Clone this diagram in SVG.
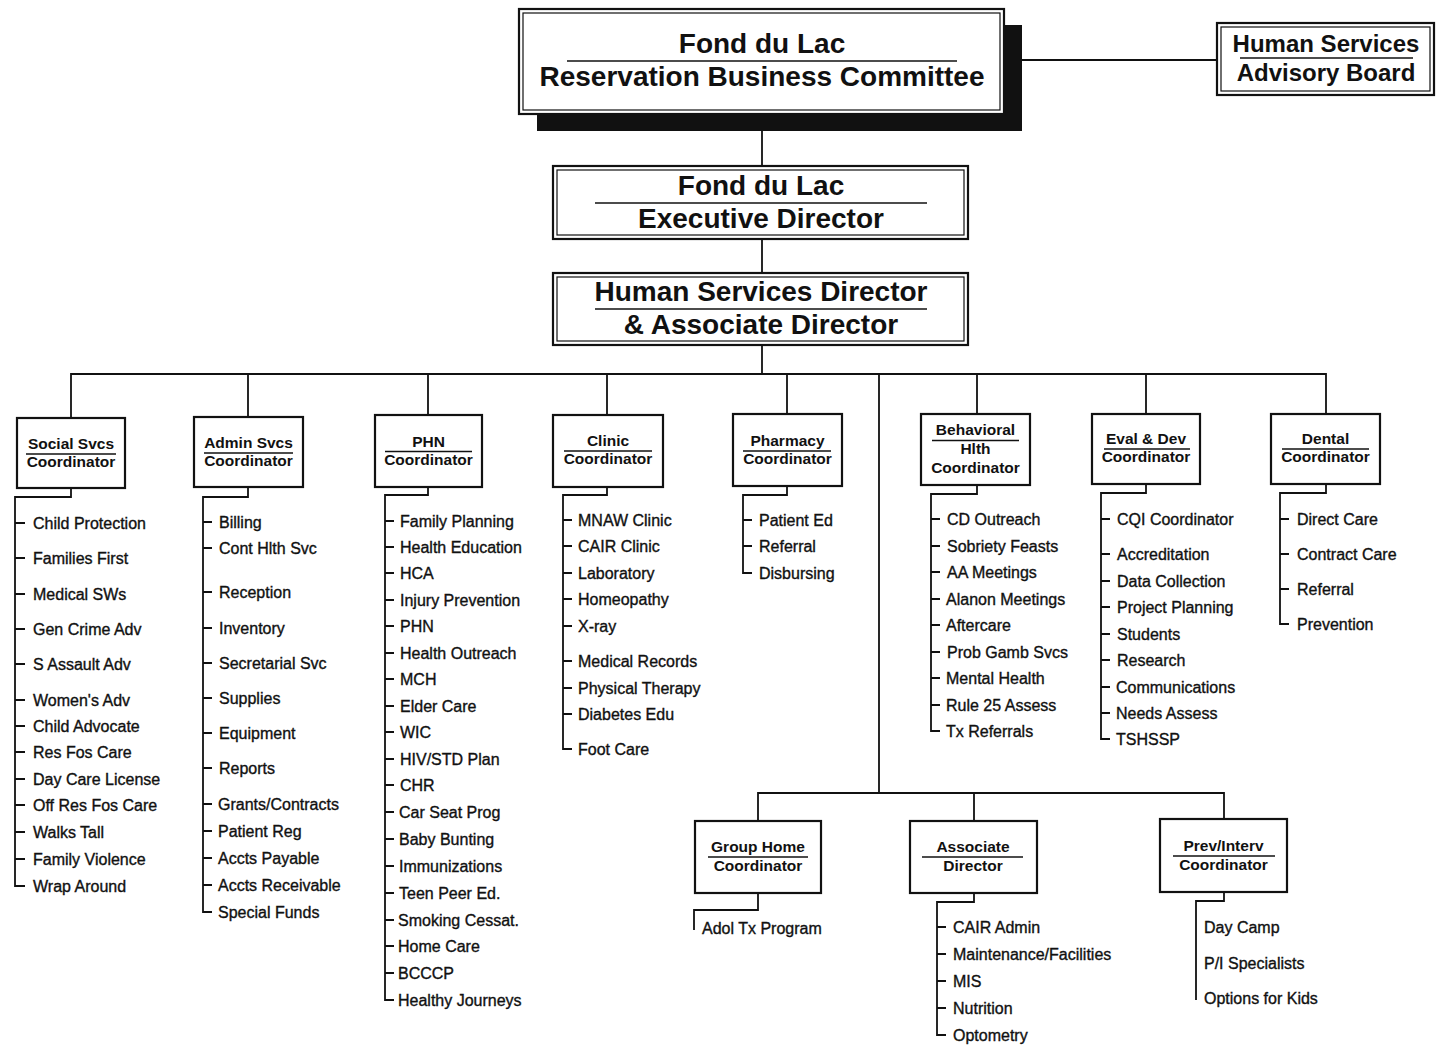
<svg xmlns="http://www.w3.org/2000/svg" width="1437" height="1049" viewBox="0 0 1437 1049">
<style>
.bg{fill:#fff}
.box{fill:#fff;stroke:#111;stroke-width:2.2}
.inner{fill:none;stroke:#111;stroke-width:1.2}
.sep{stroke:#111;stroke-width:1.6}
.wire{fill:none;stroke:#111;stroke-width:1.8}
.big{font-family:"Liberation Sans",Arial,sans-serif;font-weight:bold;font-size:28px;text-anchor:middle;fill:#111}
.mid{font-family:"Liberation Sans",Arial,sans-serif;font-weight:bold;font-size:24px;text-anchor:middle;fill:#111}
.co{font-family:"Liberation Sans",Arial,sans-serif;font-weight:bold;font-size:15.5px;text-anchor:middle;fill:#111}
.it{font-family:"Liberation Sans",Arial,sans-serif;font-size:16px;fill:#111;stroke:#111;stroke-width:0.35}
</style>
<rect class="bg" x="0" y="0" width="1437" height="1049"/>

<g id="connectors">
  <path class="wire" d="M1004,60 H1217"/>
  <path class="wire" d="M762,114 V166 M762,239 V273 M762,345 V374"/>
  <path class="wire" d="M71,418 V374 H1326 V414 M248,374 V417 M428,374 V415 M607,374 V415 M787,374 V414 M977,374 V414 M1146,374 V414"/>
  <path class="wire" d="M879,374 V793 M758,821 V793 H1224 V819 M974,793 V821"/>
  <!-- Social tree -->
  <path class="wire" d="M71,488 V497 H15 V886 H25 M15,523 h10 M15,558 h10 M15,594 h10 M15,629 h10 M15,664 h10 M15,700 h10 M15,726 h10 M15,752 h10 M15,779 h10 M15,805 h10 M15,832 h10 M15,859 h10"/>
  <!-- Admin tree -->
  <path class="wire" d="M248,487 V497 H203 V912 H212 M203,522 h9 M203,548 h9 M203,592 h9 M203,628 h9 M203,663 h9 M203,698 h9 M203,733 h9 M203,768 h9 M203,804 h9 M203,831 h9 M203,858 h9 M203,885 h9"/>
  <!-- PHN tree -->
  <path class="wire" d="M428,487 V495 H385 V1000 H394 M385,521 h9 M385,547 h9 M385,573 h9 M385,600 h9 M385,626 h9 M385,653 h9 M385,679 h9 M385,706 h9 M385,732 h9 M385,759 h9 M385,785 h9 M385,812 h9 M385,839 h9 M385,866 h9 M385,893 h9 M385,920 h9 M385,946 h9 M385,973 h9"/>
  <!-- Clinic tree -->
  <path class="wire" d="M607,487 V495 H563 V749 H572 M563,520 h9 M563,546 h9 M563,573 h9 M563,599 h9 M563,626 h9 M563,661 h9 M563,688 h9 M563,714 h9"/>
  <!-- Pharmacy tree -->
  <path class="wire" d="M787,486 V495 H743 V573 H752 M743,520 h9 M743,546 h9"/>
  <!-- Behavioral tree -->
  <path class="wire" d="M977,485 V494 H931 V731 H940 M931,519 h9 M931,546 h9 M931,572 h9 M931,599 h9 M931,625 h9 M931,652 h9 M931,678 h9 M931,705 h9"/>
  <!-- Eval tree -->
  <path class="wire" d="M1146,484 V493 H1101 V739 H1110 M1101,519 h9 M1101,554 h9 M1101,581 h9 M1101,607 h9 M1101,634 h9 M1101,660 h9 M1101,687 h9 M1101,713 h9"/>
  <!-- Dental tree -->
  <path class="wire" d="M1326,484 V493 H1280 V624 H1289 M1280,519 h9 M1280,554 h9 M1280,589 h9"/>
  <!-- Group home tree -->
  <path class="wire" d="M758,893 V910 H694 V930"/>
  <!-- Associate tree -->
  <path class="wire" d="M974,893 V902 H937 V1035 H946 M937,927 h9 M937,954 h9 M937,981 h9 M937,1008 h9"/>
  <!-- Prev tree -->
  <path class="wire" d="M1224,892 V901 H1196 V1000"/>
</g>

<g id="rbc">
  <rect x="537" y="25" width="485" height="106" fill="#111"/>
  <rect class="box" x="519" y="9" width="485" height="105"/>
  <rect class="inner" x="523" y="13" width="477" height="97"/>
  <text class="big" x="762" y="53">Fond du Lac</text>
  <line class="sep" x1="567" y1="61" x2="957" y2="61"/>
  <text class="big" x="762" y="86">Reservation Business Committee</text>
</g>

<g id="hsab">
  <rect class="box" x="1217" y="23" width="217" height="72"/>
  <rect class="inner" x="1221" y="27" width="209" height="64"/>
  <text class="mid" x="1326" y="52">Human Services</text>
  <line class="sep" x1="1240" y1="58" x2="1413" y2="58"/>
  <text class="mid" x="1326" y="81">Advisory Board</text>
</g>

<g id="exec">
  <rect class="box" x="553" y="166" width="415" height="73"/>
  <rect class="inner" x="557" y="170" width="407" height="65"/>
  <text class="big" x="761" y="195">Fond du Lac</text>
  <line class="sep" x1="595" y1="203" x2="927" y2="203"/>
  <text class="big" x="761" y="228">Executive Director</text>
</g>

<g id="hsdir">
  <rect class="box" x="553" y="273" width="415" height="72"/>
  <rect class="inner" x="557" y="277" width="407" height="64"/>
  <text class="big" x="761" y="301">Human Services Director</text>
  <line class="sep" x1="595" y1="309" x2="927" y2="309"/>
  <text class="big" x="761" y="334">&amp; Associate Director</text>
</g>

<g id="social">
  <rect class="box" x="17" y="418" width="108" height="70"/>
  <text class="co" x="71" y="449">Social Svcs</text>
  <line class="sep" x1="26" y1="454" x2="116" y2="454"/>
  <text class="co" x="71" y="467">Coordinator</text>
  <text class="it" x="33" y="528.5">Child Protection</text>
  <text class="it" x="33" y="563.5">Families First</text>
  <text class="it" x="33" y="599.5">Medical SWs</text>
  <text class="it" x="33" y="634.5">Gen Crime Adv</text>
  <text class="it" x="33" y="669.5">S Assault Adv</text>
  <text class="it" x="33" y="705.5">Women's Adv</text>
  <text class="it" x="33" y="731.5">Child Advocate</text>
  <text class="it" x="33" y="757.5">Res Fos Care</text>
  <text class="it" x="33" y="784.5">Day Care License</text>
  <text class="it" x="33" y="810.5">Off Res Fos Care</text>
  <text class="it" x="33" y="837.5">Walks Tall</text>
  <text class="it" x="33" y="864.5">Family Violence</text>
  <text class="it" x="33" y="891.5">Wrap Around</text>
</g>

<g id="admin">
  <rect class="box" x="194" y="417" width="109" height="70"/>
  <text class="co" x="248.5" y="448">Admin Svcs</text>
  <line class="sep" x1="204" y1="453" x2="293" y2="453"/>
  <text class="co" x="248.5" y="466">Coordinator</text>
  <text class="it" x="219" y="527.5">Billing</text>
  <text class="it" x="219" y="553.5">Cont Hlth Svc</text>
  <text class="it" x="219" y="597.5">Reception</text>
  <text class="it" x="219" y="633.5">Inventory</text>
  <text class="it" x="219" y="668.5">Secretarial Svc</text>
  <text class="it" x="219" y="703.5">Supplies</text>
  <text class="it" x="219" y="738.5">Equipment</text>
  <text class="it" x="219" y="773.5">Reports</text>
  <text class="it" x="218" y="809.5">Grants/Contracts</text>
  <text class="it" x="218" y="836.5">Patient Reg</text>
  <text class="it" x="218" y="863.5">Accts Payable</text>
  <text class="it" x="218" y="890.5">Accts Receivable</text>
  <text class="it" x="218" y="917.5">Special Funds</text>
</g>

<g id="phn">
  <rect class="box" x="375" y="415" width="107" height="72"/>
  <text class="co" x="428.5" y="447">PHN</text>
  <line class="sep" x1="385" y1="451.5" x2="472" y2="451.5"/>
  <text class="co" x="428.5" y="465">Coordinator</text>
  <text class="it" x="400" y="526.5">Family Planning</text>
  <text class="it" x="400" y="552.5">Health Education</text>
  <text class="it" x="400" y="578.5">HCA</text>
  <text class="it" x="400" y="605.5">Injury Prevention</text>
  <text class="it" x="400" y="631.5">PHN</text>
  <text class="it" x="400" y="658.5">Health Outreach</text>
  <text class="it" x="400" y="684.5">MCH</text>
  <text class="it" x="400" y="711.5">Elder Care</text>
  <text class="it" x="400" y="737.5">WIC</text>
  <text class="it" x="400" y="764.5">HIV/STD Plan</text>
  <text class="it" x="400" y="790.5">CHR</text>
  <text class="it" x="399" y="817.5">Car Seat Prog</text>
  <text class="it" x="399" y="844.5">Baby Bunting</text>
  <text class="it" x="399" y="871.5">Immunizations</text>
  <text class="it" x="399" y="898.5">Teen Peer Ed.</text>
  <text class="it" x="398" y="925.5">Smoking Cessat.</text>
  <text class="it" x="398" y="951.5">Home Care</text>
  <text class="it" x="398" y="978.5">BCCCP</text>
  <text class="it" x="398" y="1005.5">Healthy Journeys</text>
</g>

<g id="clinic">
  <rect class="box" x="553" y="415" width="110" height="72"/>
  <text class="co" x="608" y="446">Clinic</text>
  <line class="sep" x1="564" y1="451" x2="652" y2="451"/>
  <text class="co" x="608" y="464">Coordinator</text>
  <text class="it" x="578" y="525.5">MNAW Clinic</text>
  <text class="it" x="578" y="551.5">CAIR Clinic</text>
  <text class="it" x="578" y="578.5">Laboratory</text>
  <text class="it" x="578" y="604.5">Homeopathy</text>
  <text class="it" x="578" y="631.5">X-ray</text>
  <text class="it" x="578" y="666.5">Medical Records</text>
  <text class="it" x="578" y="693.5">Physical Therapy</text>
  <text class="it" x="578" y="719.5">Diabetes Edu</text>
  <text class="it" x="578" y="754.5">Foot Care</text>
</g>

<g id="pharmacy">
  <rect class="box" x="733" y="414" width="109" height="72"/>
  <text class="co" x="787.5" y="446">Pharmacy</text>
  <line class="sep" x1="743" y1="451" x2="831" y2="451"/>
  <text class="co" x="787.5" y="464">Coordinator</text>
  <text class="it" x="759" y="525.5">Patient Ed</text>
  <text class="it" x="759" y="551.5">Referral</text>
  <text class="it" x="759" y="578.5">Disbursing</text>
</g>

<g id="behavioral">
  <rect class="box" x="921" y="414" width="109" height="71"/>
  <text class="co" x="975.5" y="435">Behavioral</text>
  <line class="sep" x1="932" y1="440.5" x2="1019" y2="440.5"/>
  <text class="co" x="975.5" y="454">Hlth</text>
  <text class="co" x="975.5" y="473">Coordinator</text>
  <text class="it" x="947" y="524.5">CD Outreach</text>
  <text class="it" x="947" y="551.5">Sobriety Feasts</text>
  <text class="it" x="947" y="577.5">AA Meetings</text>
  <text class="it" x="946" y="604.5">Alanon Meetings</text>
  <text class="it" x="946" y="630.5">Aftercare</text>
  <text class="it" x="947" y="657.5">Prob Gamb Svcs</text>
  <text class="it" x="946" y="683.5">Mental Health</text>
  <text class="it" x="946" y="710.5">Rule 25 Assess</text>
  <text class="it" x="946" y="736.5">Tx Referrals</text>
</g>

<g id="evaldev">
  <rect class="box" x="1092" y="414" width="108" height="70"/>
  <text class="co" x="1146" y="444">Eval &amp; Dev</text>
  <line class="sep" x1="1104" y1="449" x2="1190" y2="449"/>
  <text class="co" x="1146" y="462">Coordinator</text>
  <text class="it" x="1117" y="524.5">CQI Coordinator</text>
  <text class="it" x="1117" y="559.5">Accreditation</text>
  <text class="it" x="1117" y="586.5">Data Collection</text>
  <text class="it" x="1117" y="612.5">Project Planning</text>
  <text class="it" x="1117" y="639.5">Students</text>
  <text class="it" x="1117" y="665.5">Research</text>
  <text class="it" x="1116" y="692.5">Communications</text>
  <text class="it" x="1116" y="718.5">Needs Assess</text>
  <text class="it" x="1116" y="744.5">TSHSSP</text>
</g>

<g id="dental">
  <rect class="box" x="1271" y="414" width="109" height="70"/>
  <text class="co" x="1325.5" y="444">Dental</text>
  <line class="sep" x1="1282" y1="449" x2="1369" y2="449"/>
  <text class="co" x="1325.5" y="462">Coordinator</text>
  <text class="it" x="1297" y="524.5">Direct Care</text>
  <text class="it" x="1297" y="559.5">Contract Care</text>
  <text class="it" x="1297" y="594.5">Referral</text>
  <text class="it" x="1297" y="629.5">Prevention</text>
</g>

<g id="grouphome">
  <rect class="box" x="695" y="821" width="126" height="72"/>
  <text class="co" x="758" y="852">Group Home</text>
  <line class="sep" x1="708" y1="857" x2="808" y2="857"/>
  <text class="co" x="758" y="871">Coordinator</text>
  <text class="it" x="702" y="933.5">Adol Tx Program</text>
</g>

<g id="associate">
  <rect class="box" x="910" y="821" width="127" height="72"/>
  <text class="co" x="973" y="852">Associate</text>
  <line class="sep" x1="922" y1="857" x2="1023" y2="857"/>
  <text class="co" x="973" y="871">Director</text>
  <text class="it" x="953" y="932.5">CAIR Admin</text>
  <text class="it" x="953" y="959.5">Maintenance/Facilities</text>
  <text class="it" x="953" y="986.5">MIS</text>
  <text class="it" x="953" y="1013.5">Nutrition</text>
  <text class="it" x="953" y="1040.5">Optometry</text>
</g>

<g id="previnterv">
  <rect class="box" x="1160" y="819" width="127" height="73"/>
  <text class="co" x="1223.5" y="851">Prev/Interv</text>
  <line class="sep" x1="1173" y1="856" x2="1275" y2="856"/>
  <text class="co" x="1223.5" y="870">Coordinator</text>
  <text class="it" x="1204" y="932.5">Day Camp</text>
  <text class="it" x="1204" y="968.5">P/I Specialists</text>
  <text class="it" x="1204" y="1003.5">Options for Kids</text>
</g>
</svg>
